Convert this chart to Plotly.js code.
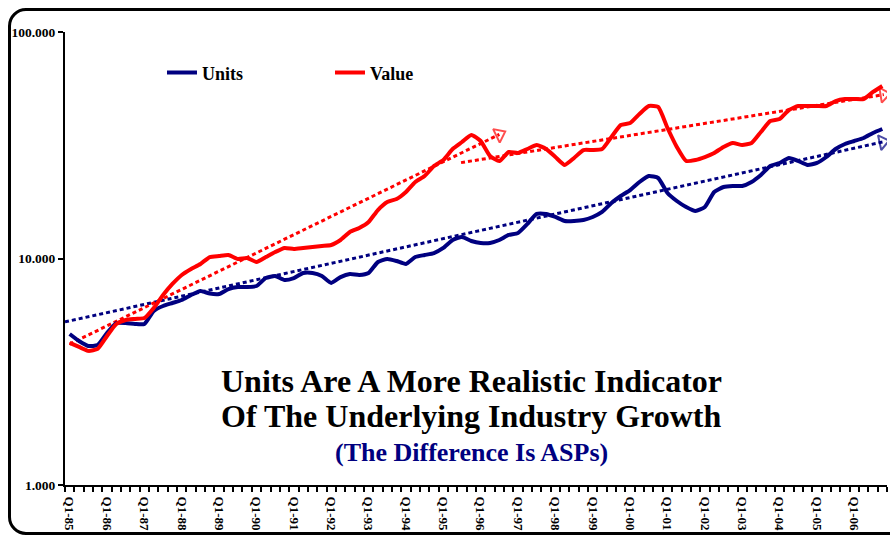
<!DOCTYPE html>
<html>
<head>
<meta charset="utf-8">
<script src="https://cdn.plot.ly/plotly-3.0.1.min.js"></script>
<style>
  html, body { margin: 0; padding: 0; background: #ffffff; }
  #wrap { position: relative; width: 890px; height: 535px; overflow: hidden; }
  #frame { position: absolute; left: 8px; top: 8px; width: 920px; height: 527px; box-sizing: border-box;
           border: 3px solid #000; border-radius: 18px; pointer-events: none; }
  #chart { position: absolute; left: 0; top: 0; width: 890px; height: 535px; }
</style>
</head>
<body>
<div id="wrap">
  <div id="frame"></div>
  <div id="chart"></div>
</div>
<script>
// Quarterly categories Q1-85 .. Q4-06
const quarters = [
  "Q1-85","Q2-85","Q3-85","Q4-85","Q1-86","Q2-86","Q3-86","Q4-86",
  "Q1-87","Q2-87","Q3-87","Q4-87","Q1-88","Q2-88","Q3-88","Q4-88",
  "Q1-89","Q2-89","Q3-89","Q4-89","Q1-90","Q2-90","Q3-90","Q4-90",
  "Q1-91","Q2-91","Q3-91","Q4-91","Q1-92","Q2-92","Q3-92","Q4-92",
  "Q1-93","Q2-93","Q3-93","Q4-93","Q1-94","Q2-94","Q3-94","Q4-94",
  "Q1-95","Q2-95","Q3-95","Q4-95","Q1-96","Q2-96","Q3-96","Q4-96",
  "Q1-97","Q2-97","Q3-97","Q4-97","Q1-98","Q2-98","Q3-98","Q4-98",
  "Q1-99","Q2-99","Q3-99","Q4-99","Q1-00","Q2-00","Q3-00","Q4-00",
  "Q1-01","Q2-01","Q3-01","Q4-01","Q1-02","Q2-02","Q3-02","Q4-02",
  "Q1-03","Q2-03","Q3-03","Q4-03","Q1-04","Q2-04","Q3-04","Q4-04",
  "Q1-05","Q2-05","Q3-05","Q4-05","Q1-06","Q2-06","Q3-06","Q4-06"
];

const units = [
  4.64, 4.32, 4.11, 4.15, 4.69, 5.19, 5.19, 5.14, 5.14, 5.87, 6.17, 6.36, 6.56, 6.90, 7.19, 7.00,
  6.97, 7.33, 7.48, 7.48, 7.56, 8.20, 8.37, 8.04, 8.20, 8.63, 8.63, 8.37, 7.80, 8.28, 8.54,
  8.46, 8.63, 9.65, 9.95, 9.75, 9.46, 10.15, 10.36, 10.57, 11.13, 12.07, 12.44, 11.95, 11.71, 11.71,
  12.07, 12.70, 12.96, 14.21, 15.73, 15.73, 15.25, 14.64, 14.64, 14.79, 15.25, 16.05, 17.58, 18.88, 20.06,
  21.77, 23.13, 22.67, 19.46, 17.94, 16.88, 16.21, 16.88, 19.66, 20.69, 20.90, 20.90, 21.77, 23.37, 25.61,
  26.41, 27.78, 26.95, 25.87, 26.41, 28.06, 30.44, 32.03, 33.02, 34.05, 35.83, 37.30
];

const value = [
  4.24, 4.07, 3.91, 3.99, 4.55, 5.14, 5.35, 5.41, 5.46, 6.05, 6.90, 7.72, 8.46, 8.99, 9.46, 10.15,
  10.26, 10.36, 9.95, 10.05, 9.65, 10.15, 10.68, 11.13, 11.02, 11.13, 11.24, 11.36, 11.47, 12.07, 13.09,
  13.63, 14.49, 16.37, 17.76, 18.31, 19.66, 21.77, 23.13, 25.61, 27.22, 30.44, 32.68, 35.10, 33.02, 28.35,
  26.95, 29.53, 29.23, 30.44, 31.70, 30.44, 28.06, 25.87, 27.78, 30.13, 30.13, 30.44, 34.40, 38.85, 39.65,
  43.45, 47.13, 46.66, 37.69, 31.07, 26.95, 27.22, 28.06, 29.23, 31.07, 32.35, 31.70, 32.35, 36.19, 40.46,
  41.29, 45.25, 47.13, 47.13, 47.13, 47.13, 49.58, 50.60, 50.60, 50.60, 54.35, 57.75
];

// Trend lines (start / end in quarter index and value)
const trendUnitsX  = [-0.5, 87.05];
const trendUnitsY  = [5.25, 32.7];
const trendValue1X = [0, 46.0];
const trendValue1Y = [4.19, 35.3];
const trendValue2X = [41.9, 87.16];
const trendValue2Y = [26.5, 52.9];

// Axis tick labels
const xTickLabels = ["Q1-85","Q1-86","Q1-87","Q1-88","Q1-89","Q1-90","Q1-91","Q1-92","Q1-93","Q1-94","Q1-95",
                     "Q1-96","Q1-97","Q1-98","Q1-99","Q1-00","Q1-01","Q1-02","Q1-03","Q1-04","Q1-05","Q1-06"];
const yTickVals = [1, 10, 100];
const yTickLabels = ["1.000", "10.000", "100.000"];

const idx = quarters.map((q, i) => i);
const xTickVals = xTickLabels.map(l => quarters.indexOf(l));

const NAVY = "#000080", RED = "#FF0000";
const FONT = "Liberation Serif, Times New Roman, serif";

function trend(x, y, color) {
  return {
    x: x, y: y, mode: "lines+markers", showlegend: false, hoverinfo: "skip",
    line: { color: color, width: 3, dash: "4px,3px" },
    marker: { symbol: "triangle-up-open", size: [0, 13], angleref: "previous",
              color: color, line: { color: color, width: 2 } }
  };
}

const data = [
  trend(trendUnitsX, trendUnitsY, NAVY),
  trend(trendValue1X, trendValue1Y, RED),
  trend(trendValue2X, trendValue2Y, RED),
  { x: idx, y: units, name: "Units", mode: "lines",
    line: { color: NAVY, width: 4, shape: "spline", smoothing: 0.5 } },
  { x: idx, y: value, name: "Value", mode: "lines",
    line: { color: RED, width: 4, shape: "spline", smoothing: 0.5 } }
];

const layout = {
  width: 890, height: 535,
  margin: { l: 65, r: 3, t: 32, b: 50 },
  paper_bgcolor: "rgba(0,0,0,0)", plot_bgcolor: "rgba(0,0,0,0)",
  font: { family: FONT, color: "#000" },
  showlegend: true,
  legend: {
    orientation: "h", x: 0.118, xanchor: "left", y: 0.91, yanchor: "middle",
    bgcolor: "rgba(0,0,0,0)", entrywidth: 123, entrywidthmode: "pixels",
    font: { family: FONT, size: 18, weight: "bold", color: "#000" }
  },
  xaxis: {
    range: [-0.5, 87.5], showgrid: false, zeroline: false,
    showline: true, linecolor: "#000", linewidth: 2,
    tickmode: "array", tickvals: xTickVals, ticktext: xTickLabels,
    ticks: "outside", ticklen: 7, tickcolor: "rgba(0,0,0,0)", tickangle: 90,
    tickfont: { family: FONT, size: 13, weight: "bold", color: "#000" },
    minor: { tickmode: "linear", tick0: -0.5, dtick: 1, ticks: "outside",
             ticklen: 5, tickwidth: 2, tickcolor: "#000", showgrid: false }
  },
  yaxis: {
    type: "log", range: [0, 2], showgrid: false, zeroline: false,
    showline: true, linecolor: "#000", linewidth: 2,
    tickmode: "array", tickvals: yTickVals, ticktext: yTickLabels,
    ticks: "outside", ticklen: 5, tickwidth: 2, tickcolor: "#000",
    tickfont: { family: FONT, size: 13.5, weight: "bold", color: "#000" }
  },
  annotations: [
    { xref: "paper", yref: "paper", x: 0.494, y: 0.2296, xanchor: "center", yanchor: "middle",
      showarrow: false, text: "Units Are A More Realistic Indicator",
      font: { family: FONT, size: 32, weight: "bold", color: "#000" } },
    { xref: "paper", yref: "paper", x: 0.494, y: 0.1523, xanchor: "center", yanchor: "middle",
      showarrow: false, text: "Of The Underlying Industry Growth",
      font: { family: FONT, size: 32, weight: "bold", color: "#000" } },
    { xref: "paper", yref: "paper", x: 0.494, y: 0.0728, xanchor: "center", yanchor: "middle",
      showarrow: false, text: "(The Difference Is ASPs)",
      font: { family: FONT, size: 26, weight: "bold", color: NAVY } }
  ]
};

Plotly.newPlot("chart", data, layout, { displayModeBar: false, staticPlot: true });
</script>
</body>
</html>
